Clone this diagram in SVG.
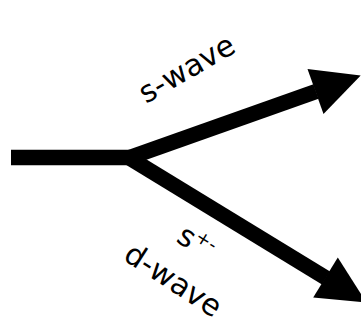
<svg xmlns="http://www.w3.org/2000/svg" width="361" height="321" viewBox="0 0 361 321">
  <style>
    .shaft { fill: none; stroke: #000; stroke-width: 15.5; stroke-linecap: butt; }
    .head { fill: #000; stroke: none; }
    .lbl { font-family: "DejaVu Sans", Verdana, sans-serif; font-size: 30px; fill: #000; }
    .sup { font-size: 18px; }
  </style>
  <rect width="361" height="321" fill="#fff"/>
  <g id="connectors">
    <!-- incoming stem -->
    <line class="shaft" x1="11" y1="157.5" x2="130" y2="157.5"/>
    <!-- upper branch: s-wave -->
    <line class="shaft" x1="127" y1="158.5" x2="316" y2="91.5"/>
    <polygon class="head" points="307.5,68.9 360.7,75.5 323.5,114.1"/>
    <!-- lower branch: s+- / d-wave -->
    <line class="shaft" x1="127" y1="156.5" x2="326" y2="278"/>
    <polygon class="head" points="337.8,257.5 366.5,302.6 313.2,297.5"/>
  </g>
  <g id="label-s-wave">
    <text class="lbl" transform="translate(146,104) rotate(-30)">s-wave</text>
  </g>
  <g id="label-s-pm">
    <text class="lbl" transform="translate(175,241) rotate(32)">s<tspan class="sup" dy="-11">+-</tspan></text>
  </g>
  <g id="label-d-wave">
    <text class="lbl" transform="translate(122,259) rotate(33)">d-wave</text>
  </g>
</svg>
